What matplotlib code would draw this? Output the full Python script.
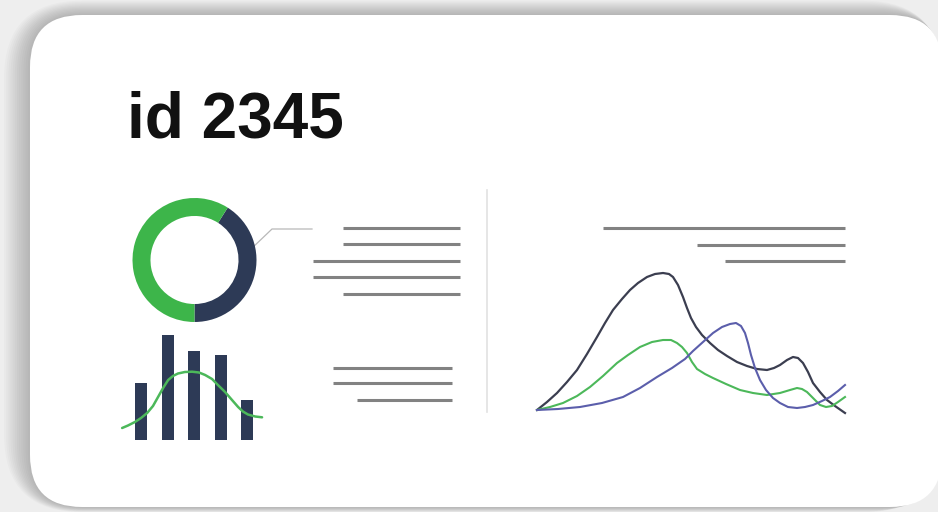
import matplotlib
matplotlib.use("Agg")
import matplotlib.pyplot as plt
from matplotlib.patches import FancyBboxPatch

W, H = 938, 512

# ---------------- data ----------------
title_text = "id 2345"

donut_labels = ["dark", "green"]
donut_values = [41, 59]

bar_positions = [0, 1, 2, 3, 4]
bar_values = [57, 105, 89, 85, 40]
bell_x = [-0.71, -0.49, -0.23, 0.0, 0.23, 0.45, 0.64, 0.83, 1.02, 1.20, 1.39, 1.65,
          1.92, 2.18, 2.41, 2.67, 2.89, 3.16, 3.42, 3.65, 3.83, 4.02, 4.29, 4.55]
bell_y = [12, 14.5, 18, 22, 27, 34, 43, 52, 60, 64, 66.5, 68,
          68.3, 67.5, 65, 61, 55, 48, 40, 33, 28.5, 25.5, 23.5, 22.7]

dark_x = [0, 10, 20, 30, 40, 50, 60, 68, 76, 85, 93, 101, 110, 118, 126, 132, 136, 141, 146, 150,
          154, 159, 165, 173, 181, 190, 200, 210, 220, 230, 237, 243, 250, 256, 261, 266, 271, 276,
          283, 290, 298, 308]
dark_y = [0, 8, 17, 28, 40, 56, 73, 87, 100, 111, 120, 127, 133, 136, 137, 136, 133, 125, 113, 102,
          92, 83, 75, 67, 60, 54, 48, 44, 41, 40, 42, 45, 50, 53, 52, 47, 38, 27,
          18, 10, 4, -3]
green_x = [0, 13, 26, 40, 53, 66, 80, 91, 103, 115, 126, 134, 140, 145, 150, 155, 160, 168, 176,
           189, 203, 216, 230, 243, 253, 260, 265, 270, 276, 283, 289, 295, 301, 308]
green_y = [0, 3, 7, 14, 23, 34, 47, 55, 63, 68, 70, 70, 67, 63, 57, 48, 41, 36, 32,
           26, 20, 17, 15, 17, 20, 22, 21, 18, 12, 5, 3, 4, 8, 13]
purple_x = [0, 21, 43, 65, 86, 103, 120, 135, 148, 156, 166, 176, 185, 193, 199, 204, 208, 211,
            214, 218, 223, 229, 236, 243, 251, 260, 268, 276, 285, 293, 301, 308]
purple_y = [0, 1, 3, 7, 13, 22, 33, 42, 51, 59, 68, 77, 83, 86, 87, 84, 77, 67,
            55, 42, 30, 20, 12, 7, 3, 2, 3, 5, 9, 13, 19, 25]

# placeholder text lines (x-start, x-end, y) in pixel space
left_top_lines = [(343, 460, 228), (343, 460, 244), (313, 460, 261), (313, 460, 277), (343, 460, 294)]
left_bottom_lines = [(333, 452, 368), (333, 452, 383), (357, 452, 400)]
right_lines = [(603, 845, 228), (697, 845, 245), (725, 845, 261)]

GREEN = "#3db54a"
NAVY = "#2d3a56"
DARK = "#3b3e50"
PURPLE = "#5b5eab"
LGREEN = "#4cb85a"
GRAY = "#828282"

fig = plt.figure(figsize=(W / 100, H / 100), dpi=100)
fig.patch.set_facecolor("#eeeeee")

bg = fig.add_axes([0, 0, 1, 1])
bg.set_xlim(0, W)
bg.set_ylim(H, 0)
bg.axis("off")

# soft shadow layers
n_layers = 12
for i in range(n_layers):
    g = 26 * (1 - i / n_layers)
    sh = FancyBboxPatch((30 - g, 15 - g * 0.55), 912 + g, 492 + g * 0.75,
                        boxstyle="round,pad=0,rounding_size=%g" % (52 + g),
                        facecolor="black", edgecolor="none", alpha=0.018, zorder=1)
    bg.add_patch(sh)
card = FancyBboxPatch((30, 15), 912, 492, boxstyle="round,pad=0,rounding_size=52",
                      facecolor="white", edgecolor="none", zorder=2)
bg.add_patch(card)

bg.text(127, 137, title_text, fontsize=46, fontweight="bold", family="Liberation Sans",
        color="#111111", va="baseline", ha="left", zorder=5)

for x0, x1, y in left_top_lines + left_bottom_lines + right_lines:
    bg.plot([x0, x1], [y, y], color=GRAY, lw=2.2, solid_capstyle="butt", zorder=5)

# divider
bg.plot([487, 487], [190, 412], color="#e2e2e2", lw=1.2, zorder=5)
# leader line
bg.plot([250, 272, 312], [250, 229, 229], color="#b8b8b8", lw=0.9, zorder=5)


def px_axes(x0, y0, x1, y1):
    ax = fig.add_axes([x0 / W, 1 - y1 / H, (x1 - x0) / W, (y1 - y0) / H])
    ax.axis("off")
    ax.patch.set_alpha(0)
    return ax


# donut
axd = px_axes(132.5, 198, 256.5, 322)
axd.pie(donut_values, colors=[NAVY, GREEN], startangle=270, counterclock=True,
        radius=1, wedgeprops=dict(width=0.29, edgecolor="none"))
axd.set_xlim(-1, 1)
axd.set_ylim(-1, 1)
axd.axis("off")

# bars
axb = px_axes(121.6, 330, 261.8, 440)
axb.set_xlim(-0.73, 4.54)
axb.set_ylim(0, 110)
axb.bar(bar_positions, bar_values, width=0.45, color=NAVY, zorder=2)
axb.plot(bell_x, bell_y, color=LGREEN, lw=1.8, zorder=3, solid_capstyle="round",
         solid_joinstyle="round", clip_on=False)

# line chart
axl = px_axes(537, 260, 845, 410)
axl.set_xlim(0, 308)
axl.set_ylim(0, 150)
axl.plot(dark_x, dark_y, color=DARK, lw=1.6, clip_on=False, solid_joinstyle="round")
axl.plot(green_x, green_y, color=LGREEN, lw=1.5, clip_on=False, solid_joinstyle="round")
axl.plot(purple_x, purple_y, color=PURPLE, lw=1.5, clip_on=False, solid_joinstyle="round")

fig.savefig("out.png", dpi=100, facecolor=fig.get_facecolor())
